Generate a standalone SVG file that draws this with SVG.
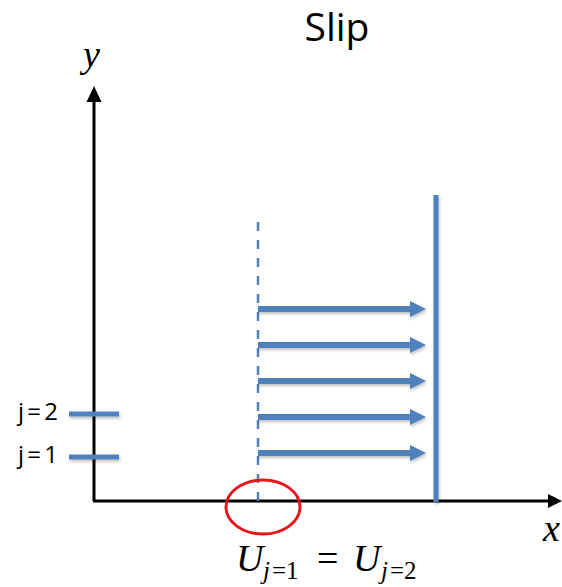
<svg xmlns="http://www.w3.org/2000/svg" width="562" height="587" viewBox="0 0 562 587">
<style>
.axis{stroke:#000;stroke-width:3;fill:none}
.bar{fill:#4f81bd}
.blue{stroke:#4f81bd;fill:none}
.flow{stroke:#4f81bd;stroke-width:6;fill:none}
.head{fill:#4f81bd}
.ui{font-family:"Open Sans","Noto Sans",sans-serif;fill:#000}
.math{font-family:"Liberation Serif",serif;font-style:italic;fill:#000}
.mathu{font-family:"Liberation Serif",serif;fill:#000}
</style>
<defs>
<filter id="sh" filterUnits="userSpaceOnUse" x="0" y="0" width="562" height="587">
<feDropShadow dx="1" dy="2" stdDeviation="1.5" flood-color="#000" flood-opacity="0.25"/>
</filter>
</defs>
<rect width="562" height="587" fill="#fff"/>
<text class="ui" x="337" y="41" font-size="39" text-anchor="middle">Slip</text>
<g id="axes">
<line class="axis" x1="94" y1="501" x2="94" y2="100"/>
<polygon points="94,86 86.5,102 101.5,102" fill="#000"/>
<line class="axis" x1="93" y1="501" x2="550" y2="501"/>
<polygon points="562,501 548,494 548,508" fill="#000"/>
<text class="math" x="83" y="67" font-size="38">y</text>
<text class="math" x="543" y="541" font-size="38">x</text>
</g>
<g id="ticks" filter="url(#sh)">
<rect class="bar" x="69" y="411.5" width="50" height="5"/>
<rect class="bar" x="69" y="454.5" width="50" height="5"/>
</g>
<text class="ui" x="18" y="420" font-size="24" textLength="40" lengthAdjust="spacing">j=2</text>
<text class="ui" x="18" y="463" font-size="24" textLength="40" lengthAdjust="spacing">j=1</text>
<g id="wall" filter="url(#sh)">
<rect class="bar" x="433.5" y="195" width="5" height="307"/>
</g>
<g id="dashed">
<line class="blue" x1="258" y1="222" x2="258" y2="501" stroke-width="2.5" stroke-dasharray="9,9"/>
</g>
<g id="connectors" filter="url(#sh)">
<line class="flow" x1="258" y1="309" x2="411" y2="309"/>
<polygon class="head" points="426,309 410,301 410,317"/>
<line class="flow" x1="258" y1="345" x2="411" y2="345"/>
<polygon class="head" points="426,345 410,337 410,353"/>
<line class="flow" x1="258" y1="381" x2="411" y2="381"/>
<polygon class="head" points="426,381 410,373 410,389"/>
<line class="flow" x1="258" y1="417" x2="411" y2="417"/>
<polygon class="head" points="426,417 410,409 410,425"/>
<line class="flow" x1="258" y1="453" x2="411" y2="453"/>
<polygon class="head" points="426,453 410,445 410,461"/>
</g>
<g id="circle">
<ellipse cx="263" cy="507" rx="37" ry="27" fill="none" stroke="#e8141b" stroke-width="3"/>
</g>
<g id="equation">
<text class="math" x="236" y="571" font-size="38">U</text>
<text class="math" x="263" y="579" font-size="25">j</text>
<text class="mathu" x="272" y="579" font-size="25">=1</text>
<text class="mathu" x="317" y="571" font-size="38">=</text>
<text class="math" x="353" y="571" font-size="38">U</text>
<text class="math" x="381" y="579" font-size="25">j</text>
<text class="mathu" x="390" y="579" font-size="25">=2</text>
</g>
</svg>
